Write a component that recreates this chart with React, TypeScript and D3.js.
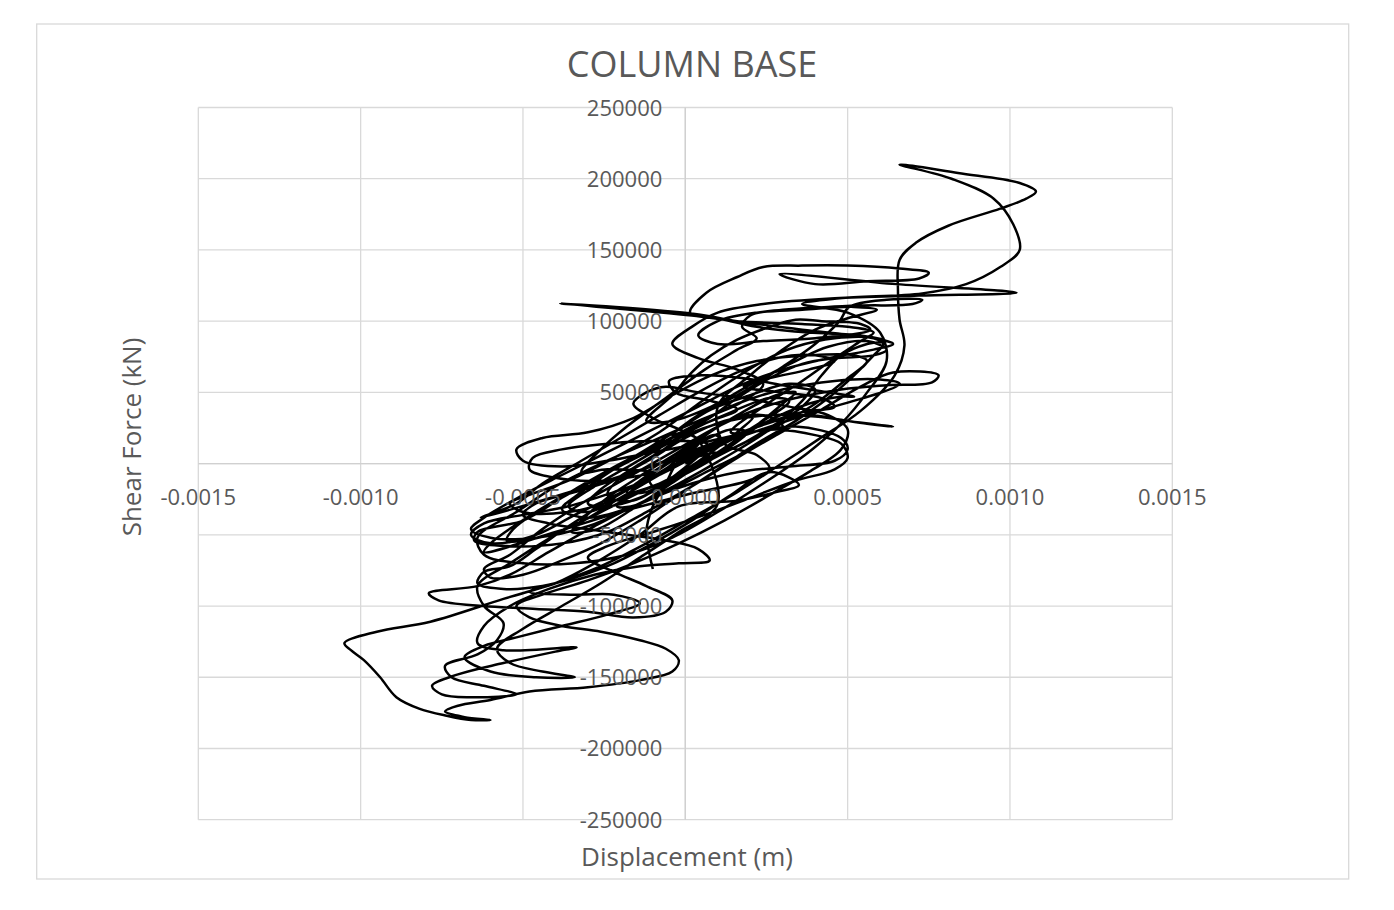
import React from "react";
import * as d3 from "d3";

// Displacement (m) and base shear force (kN), read along the traced hysteresis path
const displacement = [
  0.0e-4, 0.5e-4, 1.1e-4, 0.9e-4, 0.1e-4, -0.5e-4, -1.1e-4, -0.9e-4, -0.1e-4, 0.8e-4, 1.7e-4, 2.1e-4, 1.5e-4, 0.5e-4, -0.7e-4, -1.7e-4, -2.1e-4, -1.5e-4, -0.4e-4, 0.9e-4,
  2.2e-4, 3.0e-4, 3.4e-4, 2.8e-4, 1.6e-4, 0.2e-4, -1.2e-4, -2.4e-4, -3.2e-4, -3.5e-4, -2.7e-4, -1.5e-4, -0.3e-4, 1.0e-4, 2.4e-4, 3.8e-4, 4.8e-4, 5.2e-4, 4.4e-4, 3.0e-4,
  1.8e-4, 0.5e-4, -0.5e-4, -0.3e-4, 0.8e-4, 1.6e-4, 0.8e-4, -0.6e-4, -2.0e-4, -3.4e-4, -4.6e-4, -5.3e-4, -5.5e-4, -4.7e-4, -3.3e-4, -2.0e-4, -0.8e-4, 0.6e-4, 2.0e-4, 3.6e-4,
  5.0e-4, 6.4e-4, 5.6e-4, 4.0e-4, 2.6e-4, 1.0e-4, -0.6e-4, -2.2e-4, -3.8e-4, -5.0e-4, -6.4e-4, -6.5e-4, -5.4e-4, -3.8e-4, -2.4e-4, -1.2e-4, 0.2e-4, 1.6e-4, 2.8e-4, 4.2e-4,
  5.4e-4, 6.4e-4, 7.8e-4, 7.6e-4, 6.2e-4, 4.8e-4, 3.4e-4, 2.2e-4, 1.0e-4, -0.4e-4, -1.8e-4, -3.2e-4, -4.4e-4, -5.4e-4, -6.2e-4, -6.0e-4, -5.0e-4, -3.8e-4, -2.6e-4, -1.4e-4,
  -0.2e-4, 1.0e-4, 2.2e-4, 3.4e-4, 4.4e-4, 5.2e-4, 5.8e-4, 6.1e-4, 5.8e-4, 4.6e-4, 3.4e-4, 2.4e-4, 1.4e-4, 0.4e-4, -0.8e-4, -2.2e-4, -3.6e-4, -4.8e-4, -5.4e-4, -5.0e-4,
  -3.6e-4, -2.2e-4, -1.0e-4, 0.2e-4, 1.4e-4, 2.8e-4, 4.0e-4, 5.0e-4, 5.6e-4, 5.2e-4, 3.8e-4, 2.2e-4, 0.8e-4, -0.4e-4, -1.6e-4, -3.0e-4, -4.4e-4, -5.2e-4, -5.0e-4, -3.8e-4,
  -2.4e-4, -1.0e-4, 0.4e-4, 2.0e-4, 3.4e-4, 4.8e-4, 5.0e-4, 4.6e-4, 3.2e-4, 1.6e-4, 0.2e-4, -1.4e-4, -2.8e-4, -4.2e-4, -5.4e-4, -6.4e-4, -7.9e-4, -7.6e-4, -6.2e-4, -4.6e-4,
  -3.0e-4, -1.6e-4, -0.6e-4, -0.4e-4, -1.2e-4, -2.2e-4, -3.0e-4, -2.4e-4, -1.0e-4, 0.6e-4, 2.0e-4, 3.4e-4, 4.6e-4, 5.0e-4, 4.8e-4, 4.0e-4, 2.8e-4, 1.4e-4, 2.4e-4, 3.6e-4,
  4.6e-4, 5.4e-4, 5.8e-4, 5.0e-4, 3.6e-4, 1.6e-4, 0.2e-4, -3.85e-4, 0.3e-4, 1.6e-4, 3.6e-4, 5.8e-4, 6.4e-4, 5.8e-4, 4.4e-4, 3.0e-4, 1.6e-4, 0.4e-4, -1.0e-4, -2.4e-4,
  -3.8e-4, -5.0e-4, -6.2e-4, -6.6e-4, -6.0e-4, -4.6e-4, -3.0e-4, -1.6e-4, -0.2e-4, 1.2e-4, 2.6e-4, 3.6e-4, 4.2e-4, 4.8e-4, 5.6e-4, 6.2e-4, 5.4e-4, 3.8e-4, 2.2e-4, 1.0e-4,
  0.15e-4, 0.65e-4, 1.6e-4, 2.4e-4, 3.6e-4, 5.0e-4, 6.6e-4, 7.5e-4, 7.2e-4, 5.6e-4, 4.0e-4, 2.9e-4, 6.5e-4, 10.2e-4, 7.2e-4, 4.6e-4, 2.4e-4, 1.0e-4, 0.2e-4, -0.4e-4,
  0.4e-4, 1.6e-4, 2.4e-4, 1.8e-4, 0.4e-4, -1.0e-4, -2.6e-4, -4.0e-4, -5.2e-4, -6.4e-4, -6.2e-4, -5.0e-4, -3.4e-4, -1.8e-4, -0.4e-4, 1.0e-4, 2.4e-4, 3.8e-4, 4.8e-4, 5.6e-4,
  6.2e-4, 6.0e-4, 5.0e-4, 3.6e-4, 4.75e-4, 7.3e-4, 8.65e-4, 9.7e-4, 10.3e-4, 10.1e-4, 9.5e-4, 8.2e-4, 6.6e-4, 8.4e-4, 10.3e-4, 10.8e-4, 10.5e-4, 9.7e-4, 8.1e-4, 7.1e-4,
  6.6e-4, 6.55e-4, 6.6e-4, 6.75e-4, 6.45e-4, 5.4e-4, 4.1e-4, 2.9e-4, 1.6e-4, 0.2e-4, -1.2e-4, -2.6e-4, -4.0e-4, -5.6e-4, -7.85e-4, -9.5e-4, -10.5e-4, -10.3e-4, -9.9e-4, -9.4e-4,
  -8.9e-4, -8.2e-4, -7.35e-4, -6.6e-4, -6.0e-4, -6.8e-4, -7.4e-4, -7.0e-4, -6.0e-4, -4.8e-4, -3.0e-4, -1.4e-4, -0.4e-4, -0.2e-4, -0.6e-4, -1.4e-4, -2.6e-4, -3.8e-4, -4.8e-4, -5.2e-4,
  -4.4e-4, -3.0e-4, -1.6e-4, -0.2e-4, 1.2e-4, 2.6e-4, 3.8e-4, 4.8e-4, 5.0e-4, 4.4e-4, 3.2e-4, 1.8e-4, 0.4e-4, -0.6e-4, -1.2e-4, -1.6e-4, -1.0e-4, 0.0e-4, 0.8e-4, 0.2e-4,
  -1.2e-4, -2.6e-4, -4.0e-4, -5.4e-4, -6.4e-4, -6.2e-4, -5.6e-4, -5.8e-4, -6.4e-4, -7.4e-4, -7.2e-4, -6.2e-4, -5.2e-4, -6.6e-4, -7.5e-4, -7.8e-4, -7.0e-4, -5.6e-4, -4.0e-4, -3.35e-4,
  -5.6e-4, -6.4e-4, -6.2e-4, -5.4e-4, -4.2e-4, -2.8e-4, -1.4e-4, -0.2e-4, 0.75e-4, 0.4e-4, -0.6e-4, -1.8e-4, -3.0e-4, -4.2e-4, -5.0e-4, -4.6e-4, -3.4e-4, -2.0e-4, -0.6e-4, 0.8e-4,
  2.2e-4, 3.6e-4, 4.6e-4, 4.2e-4, 3.0e-4, 1.8e-4, 2.6e-4, 3.8e-4, 4.6e-4, 4.0e-4, 2.8e-4, 1.6e-4, 0.4e-4, -0.8e-4, -2.0e-4, -3.2e-4, -4.4e-4, -5.2e-4, -6.3e-4, -3.0e-4,
  0.0e-4, 3.4e-4, 6.6e-4, 6.0e-4, 4.6e-4, 3.0e-4, 1.6e-4, 0.2e-4, -1.4e-4, -3.0e-4, -4.6e-4, -6.0e-4, -6.2e-4, -4.0e-4, -2.0e-4, 0.0e-4, 2.0e-4, 2.6e-4, 2.2e-4, 1.2e-4,
  1.0e-4, 2.0e-4, 3.0e-4, 4.0e-4, 5.0e-4, 5.9e-4, 5.2e-4, 3.6e-4, 2.2e-4, 1.0e-4, 0.4e-4, 1.0e-4, 2.4e-4, 4.0e-4, 5.7e-4, 5.4e-4, 4.2e-4, 3.4e-4, 2.6e-4, 1.6e-4,
  0.8e-4, 0.2e-4, -0.4e-4, -1.2e-4, -0.4e-4, 0.8e-4, 2.2e-4, 3.4e-4, 4.4e-4, 5.6e-4, 6.2e-4, 5.8e-4, 4.6e-4, 3.6e-4, 2.6e-4, 1.6e-4, 0.6e-4, -0.4e-4, 0.4e-4, 1.6e-4,
  3.0e-4, 4.0e-4, 4.75e-4, 5.05e-4, 6.2e-4, 7.3e-4, 7.0e-4, 5.5e-4, 4.4e-4, 3.0e-4, 2.0e-4, 1.75e-4, 2.2e-4, 1.6e-4, 0.6e-4, -0.6e-4, -1.8e-4, -2.6e-4, -3.2e-4, -2.4e-4,
  -1.0e-4, -2.6e-4, -4.0e-4, -4.8e-4, -4.7e-4, -3.8e-4, -2.4e-4, -0.8e-4, 0.4e-4, -0.4e-4, -1.8e-4, -3.4e-4, -4.6e-4, -6.0e-4, -6.6e-4, -6.2e-4, -5.0e-4, -3.6e-4, -2.2e-4, -1.0e-4,
  0.2e-4, 1.2e-4, -0.6e-4, -2.2e-4, -3.6e-4, -4.6e-4, -5.4e-4, -6.2e-4, -6.4e-4, -5.6e-4, -4.4e-4, -3.4e-4, -2.2e-4, -1.0e-4, 0.2e-4, 1.4e-4, 2.6e-4, 3.5e-4, 2.8e-4, 1.6e-4,
  -0.2e-4, -1.4e-4, -2.8e-4, -4.0e-4, -4.8e-4, -3.4e-4, -2.2e-4, -1.4e-4, -2.4e-4, -3.8e-4, -5.2e-4, -6.2e-4, -6.8e-4, -6.0e-4, -4.6e-4, -3.4e-4, -4.4e-4, -5.4e-4, -5.8e-4, -5.0e-4,
  -3.8e-4, -2.6e-4, -1.4e-4, -0.2e-4, 1.0e-4,
  0.2e-4, -0.8e-4, -1.8e-4, -2.6e-4, -3.0e-4, -2.4e-4, -1.4e-4, -0.4e-4, 0.6e-4, 1.4e-4, 1.9e-4, 1.4e-4, 0.4e-4, -0.6e-4, -1.4e-4, -1.8e-4, -1.2e-4, -0.4e-4, 0.4e-4, 1.0e-4,
  0.2e-4, 1.2e-4, 2.4e-4, 3.2e-4, 2.6e-4, 1.4e-4, 0.6e-4, -0.4e-4, -1.6e-4, -2.8e-4, -3.6e-4, -3.0e-4, -1.8e-4, -0.8e-4, 0.4e-4, 1.6e-4, 2.8e-4, 3.6e-4, 4.0e-4, 3.2e-4,
  2.0e-4, 0.8e-4, -0.2e-4, -1.2e-4, -2.2e-4, -3.2e-4, -3.8e-4, -3.0e-4, -1.6e-4, -0.4e-4, 0.8e-4, 2.0e-4, 3.0e-4, 2.4e-4, 1.2e-4, 0.0e-4, -1.0e-4, -2.0e-4, -2.4e-4, -1.6e-4,
  0.6e-4, -0.2e-4, -0.6e-4, -1.0e-4, -1.2e-4, -1.1e-4, -1.0e-4,
];

const shearForce = [
  0, 6000, 16000, 20000, 10000, -2000, -12000, -17000, -6000, 8000, 24000, 33000, 32000, 18000, -2000, -20000, -30000, -29000, -13000, 6000,
  27000, 42000, 50000, 48000, 34000, 14000, -6000, -24000, -40000, -48000, -46000, -30000, -12000, 8000, 28000, 42000, 47000, 47000, 50000, 55000,
  60000, 62000, 58000, 50000, 44000, 38000, 30000, 16000, 0, -18000, -34000, -46000, -54000, -53000, -42000, -24000, -8000, 10000, 24000, 34000,
  30000, 26000, 28000, 33000, 34000, 28000, 14000, -4000, -24000, -40000, -48000, -54000, -58000, -56000, -48000, -34000, -16000, 4000, 20000, 38000,
  54000, 64000, 62000, 57000, 55000, 52000, 46000, 38000, 26000, 8000, -10000, -28000, -46000, -64000, -74000, -80000, -78000, -68000, -56000, -40000,
  -22000, -4000, 14000, 30000, 46000, 62000, 76000, 84000, 88000, 88000, 82000, 72000, 58000, 42000, 22000, 4000, -12000, -22000, -28000, -34000,
  -34000, -26000, -16000, -4000, 10000, 26000, 42000, 60000, 72000, 76000, 76000, 72000, 62000, 48000, 32000, 22000, 18000, 10000, 2000, -2000,
  2000, 8000, 14000, 22000, 26000, 18000, 10000, 2000, -2000, -6000, -14000, -28000, -44000, -62000, -78000, -86000, -91000, -96000, -100000, -102000,
  -104000, -108000, -104000, -96000, -86000, -76000, -66000, -58000, -48000, -36000, -24000, -12000, -4000, 4000, 14000, 20000, 24000, 22000, 40000, 58000,
  74000, 86000, 92000, 96000, 98000, 100000, 104000, 112500, 105000, 100000, 94000, 88000, 84000, 80000, 74000, 66000, 54000, 40000, 24000, 8000,
  -8000, -22000, -38000, -46000, -52000, -52000, -44000, -30000, -14000, 4000, 24000, 44000, 62000, 76000, 84000, 86000, 90000, 92000, 96000, 102000,
  106000, 120000, 131000, 138000, 139000, 139000, 137000, 134000, 130000, 128000, 126000, 133000, 126000, 120000, 118000, 116000, 112000, 106000, 96000, 84000,
  74000, 66000, 56000, 44000, 30000, 16000, 0, -16000, -34000, -52000, -64000, -70000, -70000, -64000, -52000, -34000, -14000, 8000, 28000, 50000,
  72000, 92000, 106000, 112000, 116000, 119500, 126000, 138000, 150000, 168000, 186000, 200000, 210000, 204000, 197000, 191000, 186000, 179000, 167000, 155000,
  143000, 122000, 101000, 83000, 62000, 37000, 17000, -1000, -20000, -38000, -56000, -72000, -84000, -95000, -111000, -118000, -126000, -131000, -138000, -150000,
  -164000, -172000, -177000, -180000, -180000, -178000, -174000, -170000, -166000, -160000, -157000, -152000, -146000, -138000, -130000, -124000, -118000, -114000, -108000, -100000,
  -92000, -82000, -70000, -56000, -40000, -22000, -6000, 10000, 24000, 34000, 40000, 46000, 50000, 54000, 50000, 42000, 32000, 22000, 10000, -4000,
  -18000, -34000, -50000, -70000, -86000, -100000, -112000, -124000, -134000, -142000, -150000, -156000, -162000, -164000, -162000, -156000, -148000, -140000, -132000, -129000,
  -131000, -126000, -114000, -100000, -88000, -78000, -72000, -70000, -68000, -60000, -54000, -50000, -46000, -42000, -36000, -28000, -20000, -10000, 2000, 14000,
  26000, 36000, 40000, 46000, 50000, 54000, 60000, 66000, 72000, 76000, 74000, 64000, 50000, 34000, 18000, 2000, -14000, -28000, -38000, -16000,
  6000, 32000, 56000, 59000, 58000, 52000, 42000, 26000, 6000, -14000, -34000, -56000, -62000, -48000, -34000, -22000, -11500, -4000, 6000, 14000,
  40000, 62000, 80000, 94000, 102000, 108000, 110000, 108000, 106000, 100000, 90000, 84000, 86000, 88000, 94000, 98000, 100000, 101000, 96000, 87000,
  76000, 64000, 48000, 30000, 30000, 40000, 58000, 72000, 82000, 86000, 80000, 76000, 74000, 70000, 60000, 46000, 30000, 20000, 34000, 48000,
  68000, 84000, 100000, 110000, 115000, 115000, 112000, 111000, 110000, 108000, 104000, 96000, 88000, 80000, 66000, 46000, 26000, 10000, -6000, -4000,
  -6000, -12000, -10000, -4000, 4000, 10000, 14000, 16000, 14000, 2000, -18000, -36000, -50000, -56000, -50000, -42000, -36000, -30000, -20000, -10000,
  4000, 18000, -4000, -24000, -44000, -60000, -72000, -76000, -84000, -88000, -86000, -80000, -70000, -56000, -40000, -22000, -6000, -15000, -20000, -26000,
  -30000, -50000, -70000, -84000, -90000, -92000, -92000, -98000, -106000, -114000, -122000, -128000, -136000, -146000, -150000, -150000, -146000, -140000, -130000, -116000,
  -100000, -84000, -66000, -48000, -28000,
  20000, 8000, -6000, -18000, -28000, -30000, -24000, -12000, 0, 12000, 22000, 24000, 14000, 0, -12000, -20000, -20000, -10000, 0, 8000,
  4000, 14000, 30000, 44000, 46000, 36000, 28000, 16000, 0, -16000, -30000, -34000, -22000, -14000, 0, 12000, 28000, 40000, 52000, 56000,
  48000, 38000, 24000, 10000, -4000, -20000, -32000, -38000, -30000, -18000, -4000, 10000, 26000, 34000, 30000, 18000, 4000, -10000, -22000, -26000,
  10000, 2000, -14000, -30000, -48000, -64000, -74000,
];

const xTicks = [-0.0015, -0.001, -0.0005, 0, 0.0005, 0.001, 0.0015];
const yTicks = [-250000, -200000, -150000, -100000, -50000, 0, 50000, 100000, 150000, 200000, 250000];

const chartTitle = "COLUMN BASE";
const xTitle = "Displacement (m)";
const yTitle = "Shear Force (kN)";

export default function App() {
  const W = 1394;
  const H = 910;
  const left = 198.3, right = 1172.3, top = 107.5, bottom = 819.7;
  const x = d3.scaleLinear().domain([-0.0015, 0.0015]).range([left, right]);
  const y = d3.scaleLinear().domain([-250000, 250000]).range([bottom, top]);
  const n = Math.min(displacement.length, shearForce.length);
  const pts: [number, number][] = d3.range(n).map((i) => [displacement[i], shearForce[i]]);
  const line = d3
    .line<[number, number]>()
    .x((d) => x(d[0]))
    .y((d) => y(d[1]))
    .curve(d3.curveCatmullRom.alpha(0.5));
  const font = "'Open Sans', 'Liberation Sans', sans-serif";
  const grid = "#d9d9d9";
  const textCol = "#595959";
  const x0 = x(0);
  const y0 = y(0);
  return (
    <div style={{ position: "absolute", left: 0, top: 0 }}>
      <svg width={W} height={H} style={{ display: "block" }}>
        <rect x={0} y={0} width={W} height={H} fill="#fff" />
        <rect x={36.7} y={24} width={1312} height={855} fill="#fff" stroke={grid} strokeWidth={1.3} />
        {xTicks.map((t) => (
          <line key={"gx" + t} x1={x(t)} x2={x(t)} y1={top} y2={bottom} stroke={grid} strokeWidth={1.3} />
        ))}
        {yTicks.map((t) => (
          <line key={"gy" + t} x1={left} x2={right} y1={y(t)} y2={y(t)} stroke={grid} strokeWidth={1.3} />
        ))}
        <line x1={x0} x2={x0} y1={top} y2={bottom} stroke="#d0d0d0" strokeWidth={1.3} />
        <line x1={left} x2={right} y1={y0} y2={y0} stroke="#d0d0d0" strokeWidth={1.3} />
        <path d={line(pts) || ""} fill="none" stroke="#000" strokeWidth={2.5} strokeLinejoin="round" />
        {xTicks.map((t) => (
          <text key={"tx" + t} x={x(t)} y={y0 + 41} textAnchor="middle" fontFamily={font} fontSize={22} fill={textCol}>
            {t.toFixed(4)}
          </text>
        ))}
        {yTicks.map((t) => (
          <text key={"ty" + t} x={x0 - 23} y={y(t) + 8} textAnchor="end" fontFamily={font} fontSize={22} fill={textCol}>
            {String(t)}
          </text>
        ))}
        <text x={692} y={77} textAnchor="middle" fontFamily={font} fontSize={36} fill={textCol}>
          {chartTitle}
        </text>
        <text x={687} y={866} textAnchor="middle" fontFamily={font} fontSize={26} fill={textCol}>
          {xTitle}
        </text>
        <text
          transform={`translate(141, 437) rotate(-90)`}
          textAnchor="middle"
          fontFamily={font}
          fontSize={26}
          fill={textCol}
        >
          {yTitle}
        </text>
      </svg>
    </div>
  );
}
